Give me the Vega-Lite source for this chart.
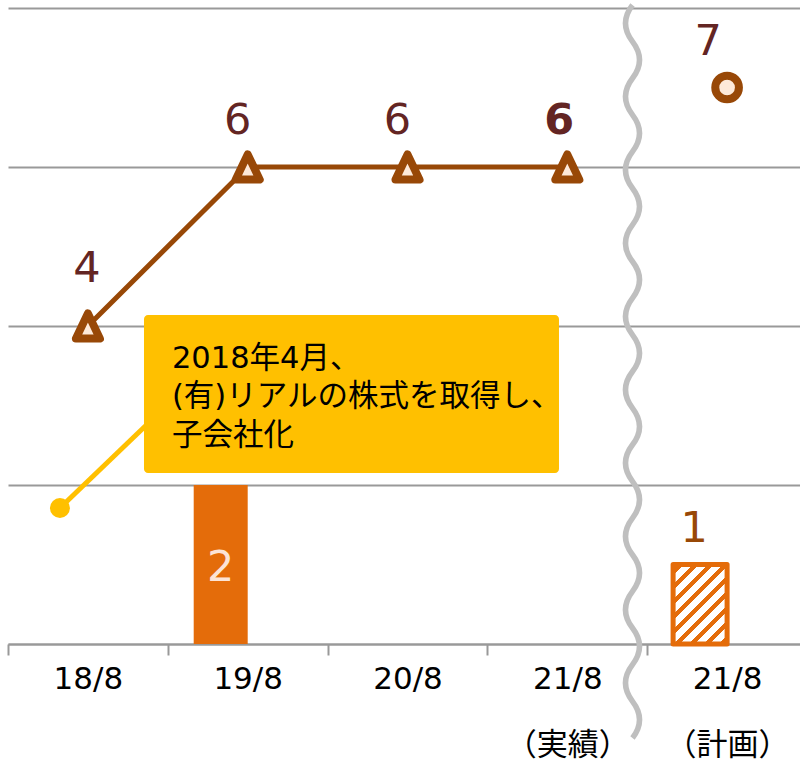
{
  "$schema": "https://vega.github.io/schema/vega-lite/v6.json",
  "width": 792,
  "height": 636,
  "autosize": {"type": "none"},
  "padding": {"left": 8, "top": 8, "right": 0, "bottom": 119},
  "background": "white",
  "config": {"view": {"stroke": null}},
  "datasets": {
    "bars": [
      {"period": "19/8", "count": 2, "kind": "actual"},
      {"period": "21/8 （計画）", "count": 1, "kind": "plan"}
    ],
    "line": [
      {"period": "18/8", "value": 4},
      {"period": "19/8", "value": 6},
      {"period": "20/8", "value": 6},
      {"period": "21/8 （実績）", "value": 6}
    ],
    "plan": [
      {"period": "21/8 （計画）", "value": 7}
    ],
    "callout": [
      {"x1": 0.851, "x2": 3.448, "y1": 2.151, "y2": 4.138, "tx": 1.026, "ty": 3.472, "px": 0.325, "py": 1.711, "ex": 0.951, "ey": 2.918, "note": "2018年4月、\n(有)リアルの株式を取得し、\n子会社化"}
    ],
    "wave": [
      {"wx": 3.908, "wy": 3.428}
    ]
  },
  "resolve": {"scale": {"x": "independent"}},
  "layer": [
    {
      "layer": [
        {
          "data": {"name": "bars"},
          "transform": [{"filter": {"field": "kind", "equal": "actual"}}],
          "mark": {"type": "bar", "width": 54, "xOffset": -27, "color": "#E46C0A"},
          "encoding": {
            "x": {
              "field": "period", "type": "nominal", "sort": null,
              "scale": {"type": "band", "domain": ["18/8", "19/8", "20/8", "21/8 （実績）", "21/8 （計画）"], "range": [0, 799], "paddingInner": 0, "paddingOuter": 0},
              "axis": {
                "title": null, "tickBand": "extent", "grid": false,
                "domainColor": "#999999", "domainWidth": 2,
                "tickColor": "#999999", "tickWidth": 2, "tickSize": 11,
                "labelFont": "DejaVu Sans, Noto Sans CJK JP", "labelFontSize": 31, "labelColor": "#000000",
                "labelPadding": 9, "labelAngle": 0, "labelBaseline": "top", "labelOverlap": false,
                "labelExpr": "split(datum.label, ' ')", "labelLineHeight": 66
              }
            },
            "y": {
              "field": "count", "type": "quantitative",
              "scale": {"domain": [0, 8], "nice": false, "zero": true},
              "axis": {"title": null, "labels": false, "ticks": false, "domain": false, "grid": true, "gridColor": "#999999", "gridWidth": 2, "values": [0, 2, 4, 6, 8]}
            }
          }
        },
        {
          "data": {"name": "bars"},
          "transform": [{"filter": {"field": "kind", "equal": "plan"}}],
          "mark": {
            "type": "bar", "width": 54, "xOffset": -27,
            "stroke": "#E46C0A", "strokeWidth": 5, "strokeJoin": "round",
            "fill": {
              "gradient": "linear", "x1": 0, "y1": 0, "x2": 0.78, "y2": 1.149,
              "stops": [
                {"offset": 0, "color": "#FFFFFF"}, {"offset": 0.035, "color": "#FFFFFF"},
                {"offset": 0.035, "color": "#E46C0A"}, {"offset": 0.080, "color": "#E46C0A"},
                {"offset": 0.080, "color": "#FFFFFF"}, {"offset": 0.147, "color": "#FFFFFF"},
                {"offset": 0.147, "color": "#E46C0A"}, {"offset": 0.192, "color": "#E46C0A"},
                {"offset": 0.192, "color": "#FFFFFF"}, {"offset": 0.260, "color": "#FFFFFF"},
                {"offset": 0.260, "color": "#E46C0A"}, {"offset": 0.305, "color": "#E46C0A"},
                {"offset": 0.305, "color": "#FFFFFF"}, {"offset": 0.372, "color": "#FFFFFF"},
                {"offset": 0.372, "color": "#E46C0A"}, {"offset": 0.417, "color": "#E46C0A"},
                {"offset": 0.417, "color": "#FFFFFF"}, {"offset": 0.485, "color": "#FFFFFF"},
                {"offset": 0.485, "color": "#E46C0A"}, {"offset": 0.530, "color": "#E46C0A"},
                {"offset": 0.530, "color": "#FFFFFF"}, {"offset": 0.597, "color": "#FFFFFF"},
                {"offset": 0.597, "color": "#E46C0A"}, {"offset": 0.642, "color": "#E46C0A"},
                {"offset": 0.642, "color": "#FFFFFF"}, {"offset": 0.709, "color": "#FFFFFF"},
                {"offset": 0.709, "color": "#E46C0A"}, {"offset": 0.754, "color": "#E46C0A"},
                {"offset": 0.754, "color": "#FFFFFF"}, {"offset": 0.822, "color": "#FFFFFF"},
                {"offset": 0.822, "color": "#E46C0A"}, {"offset": 0.867, "color": "#E46C0A"},
                {"offset": 0.867, "color": "#FFFFFF"}, {"offset": 0.934, "color": "#FFFFFF"},
                {"offset": 0.934, "color": "#E46C0A"}, {"offset": 0.979, "color": "#E46C0A"},
                {"offset": 0.979, "color": "#FFFFFF"}, {"offset": 1, "color": "#FFFFFF"}
              ]
            }
          },
          "encoding": {
            "x": {"field": "period", "type": "nominal", "sort": null},
            "y": {"field": "count", "type": "quantitative"}
          }
        },
        {
          "data": {"name": "line"},
          "mark": {"type": "line", "color": "#984807", "strokeWidth": 5},
          "encoding": {
            "x": {"field": "period", "type": "nominal", "sort": null},
            "y": {"field": "value", "type": "quantitative"}
          }
        },
        {
          "data": {"name": "line"},
          "mark": {"type": "point", "shape": "M0,-0.9L0.86,0.9L-0.86,0.9Z", "size": 784, "filled": true, "fill": "#FDE9D9", "stroke": "#984807", "strokeWidth": 8, "strokeJoin": "round", "opacity": 1},
          "encoding": {
            "x": {"field": "period", "type": "nominal", "sort": null},
            "y": {"field": "value", "type": "quantitative"}
          }
        },
        {
          "data": {"name": "plan"},
          "mark": {"type": "point", "shape": "circle", "size": 560, "filled": true, "fill": "#FDE9D9", "stroke": "#984807", "strokeWidth": 8, "opacity": 1},
          "encoding": {
            "x": {"field": "period", "type": "nominal", "sort": null},
            "y": {"field": "value", "type": "quantitative"}
          }
        },
        {
          "data": {"name": "line"},
          "transform": [{"filter": {"field": "period", "equal": "18/8"}}],
          "mark": {"type": "text", "font": "DejaVu Sans", "fontSize": 43, "color": "#632523", "dx": -1, "dy": -57, "baseline": "middle"},
          "encoding": {
            "x": {"field": "period", "type": "nominal", "sort": null},
            "y": {"field": "value", "type": "quantitative"},
            "text": {"field": "value", "type": "quantitative"}
          }
        },
        {
          "data": {"name": "line"},
          "transform": [{"filter": {"field": "period", "oneOf": ["19/8", "20/8"]}}],
          "mark": {"type": "text", "font": "DejaVu Sans", "fontSize": 43, "color": "#632523", "dx": -10, "dy": -46, "baseline": "middle"},
          "encoding": {
            "x": {"field": "period", "type": "nominal", "sort": null},
            "y": {"field": "value", "type": "quantitative"},
            "text": {"field": "value", "type": "quantitative"}
          }
        },
        {
          "data": {"name": "line"},
          "transform": [{"filter": {"field": "period", "equal": "21/8 （実績）"}}],
          "mark": {"type": "text", "font": "DejaVu Sans", "fontSize": 43, "fontWeight": "bold", "color": "#632523", "dx": -8, "dy": -46, "baseline": "middle"},
          "encoding": {
            "x": {"field": "period", "type": "nominal", "sort": null},
            "y": {"field": "value", "type": "quantitative"},
            "text": {"field": "value", "type": "quantitative"}
          }
        },
        {
          "data": {"name": "plan"},
          "mark": {"type": "text", "font": "DejaVu Sans", "fontSize": 43, "color": "#632523", "dx": -19, "dy": -46, "baseline": "middle"},
          "encoding": {
            "x": {"field": "period", "type": "nominal", "sort": null},
            "y": {"field": "value", "type": "quantitative"},
            "text": {"field": "value", "type": "quantitative"}
          }
        },
        {
          "data": {"name": "bars"},
          "transform": [{"filter": {"field": "kind", "equal": "actual"}}],
          "mark": {"type": "text", "font": "DejaVu Sans", "fontSize": 43, "color": "#FCE4D6", "dx": -27, "dy": 83, "baseline": "middle"},
          "encoding": {
            "x": {"field": "period", "type": "nominal", "sort": null},
            "y": {"field": "count", "type": "quantitative"},
            "text": {"field": "count", "type": "quantitative"}
          }
        },
        {
          "data": {"name": "bars"},
          "transform": [{"filter": {"field": "kind", "equal": "plan"}}],
          "mark": {"type": "text", "font": "DejaVu Sans", "fontSize": 43, "color": "#984807", "dx": -33, "dy": -36, "baseline": "middle"},
          "encoding": {
            "x": {"field": "period", "type": "nominal", "sort": null},
            "y": {"field": "count", "type": "quantitative"},
            "text": {"field": "count", "type": "quantitative"}
          }
        }
      ]
    },
    {
      "layer": [
        {
          "data": {"name": "wave"},
          "mark": {
            "type": "point", "filled": false, "color": "#BFBFBF", "strokeWidth": 5.5, "opacity": 1, "size": 537289,
            "shape": "M0,-1C-0.0255,-0.9667 -0.0255,-0.9333 0,-0.9C0.0255,-0.8667 0.0255,-0.8333 0,-0.8C-0.0255,-0.7667 -0.0255,-0.7333 0,-0.7C0.0255,-0.6667 0.0255,-0.6333 0,-0.6C-0.0255,-0.5667 -0.0255,-0.5333 0,-0.5C0.0255,-0.4667 0.0255,-0.4333 0,-0.4C-0.0255,-0.3667 -0.0255,-0.3333 0,-0.3C0.0255,-0.2667 0.0255,-0.2333 0,-0.2C-0.0255,-0.1667 -0.0255,-0.1333 0,-0.1C0.0255,-0.0667 0.0255,-0.0333 0,0C-0.0255,0.0333 -0.0255,0.0667 0,0.1C0.0255,0.1333 0.0255,0.1667 0,0.2C-0.0255,0.2333 -0.0255,0.2667 0,0.3C0.0255,0.3333 0.0255,0.3667 0,0.4C-0.0255,0.4333 -0.0255,0.4667 0,0.5C0.0255,0.5333 0.0255,0.5667 0,0.6C-0.0255,0.6333 -0.0255,0.6667 0,0.7C0.0255,0.7333 0.0255,0.7667 0,0.8C-0.0255,0.8333 -0.0255,0.8667 0,0.9C0.0255,0.9333 0.0255,0.9667 0,1"
          },
          "encoding": {
            "x": {"field": "wx", "type": "quantitative", "scale": {"domain": [0, 5], "range": [0, 799], "nice": false, "zero": false}, "axis": null},
            "y": {"field": "wy", "type": "quantitative"}
          }
        },
        {
          "data": {"name": "callout"},
          "mark": {"type": "rule", "color": "#FFC000", "strokeWidth": 5},
          "encoding": {
            "x": {"field": "px", "type": "quantitative"},
            "y": {"field": "py", "type": "quantitative"},
            "x2": {"field": "ex"},
            "y2": {"field": "ey"}
          }
        },
        {
          "data": {"name": "callout"},
          "mark": {"type": "point", "shape": "circle", "size": 400, "filled": true, "color": "#FFC000", "opacity": 1},
          "encoding": {
            "x": {"field": "px", "type": "quantitative"},
            "y": {"field": "py", "type": "quantitative"}
          }
        },
        {
          "data": {"name": "callout"},
          "mark": {"type": "rect", "color": "#FFC000", "cornerRadius": 4},
          "encoding": {
            "x": {"field": "x1", "type": "quantitative"},
            "x2": {"field": "x2"},
            "y": {"field": "y1", "type": "quantitative"},
            "y2": {"field": "y2"}
          }
        },
        {
          "data": {"name": "callout"},
          "mark": {"type": "text", "font": "DejaVu Sans, Noto Sans CJK JP", "fontSize": 30.5, "color": "#000000", "align": "left", "baseline": "alphabetic", "lineBreak": "\n", "lineHeight": 38.5},
          "encoding": {
            "x": {"field": "tx", "type": "quantitative"},
            "y": {"field": "ty", "type": "quantitative"},
            "text": {"field": "note", "type": "nominal"}
          }
        }
      ]
    }
  ]
}
